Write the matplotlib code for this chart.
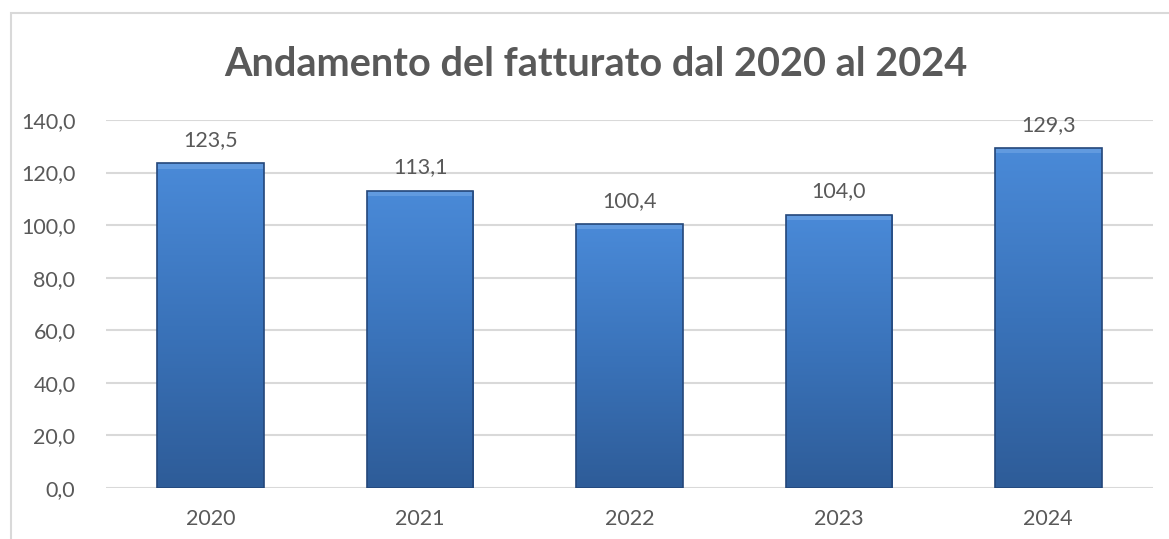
import numpy as np
import matplotlib.pyplot as plt
from matplotlib.patches import Rectangle
from matplotlib.colors import LinearSegmentedColormap
from matplotlib.ticker import FuncFormatter

anni = ['2020', '2021', '2022', '2023', '2024']
fatturato = [123.5, 113.1, 100.4, 104.0, 129.3]
titolo = 'Andamento del fatturato dal 2020 al 2024'

plt.rcParams['font.family'] = ['Lato', 'DejaVu Sans']
grigio = '#595959'

fig = plt.figure(figsize=(11.69, 5.39), dpi=100)
ax = fig.add_axes([106/1169, 1 - 488/539, (1153-106)/1169, (488-120)/539])

x = np.arange(len(anni))
bars = ax.bar(x, fatturato, width=0.51, facecolor='none', edgecolor='#24477a', linewidth=1.2, zorder=3)

# gradient fill for the bars
cmap = LinearSegmentedColormap.from_list('blu', ['#2e5c98', '#3a73ba', '#4a8ad8'])
grad = np.linspace(0, 1, 256).reshape(-1, 1)
for b in bars:
    x0, w, h = b.get_x(), b.get_width(), b.get_height()
    im = ax.imshow(grad, extent=[x0, x0 + w, 0, h], origin='lower', cmap=cmap,
                   aspect='auto', zorder=2)
    im.set_clip_path(b)
    # lighter bevel on top
    ax.add_patch(Rectangle((x0, h - 2.0), w, 2.0, facecolor='#7fb0ea', edgecolor='none',
                           alpha=0.45, zorder=2.5))

for xi, v in zip(x, fatturato):
    ax.text(xi, v + 5, f'{v:.1f}'.replace('.', ','), ha='center', va='bottom',
            fontsize=15.5, color=grigio)

ax.set_xlim(-0.5, len(anni) - 0.5)
ax.set_ylim(0, 140)
ax.set_yticks(np.arange(0, 141, 20))
ax.yaxis.set_major_formatter(FuncFormatter(lambda v, p: f'{v:.1f}'.replace('.', ',')))
ax.set_xticks(x)
ax.set_xticklabels(anni)
ax.tick_params(length=0, labelsize=15.5, labelcolor=grigio)
ax.tick_params(axis='y', pad=22)
ax.tick_params(axis='x', pad=15)
ax.grid(axis='y', color='#d9d9d9', linewidth=1.5, zorder=0)
for s in ax.spines.values():
    s.set_visible(False)

fig.text(596/1169, 1 - 65/539, titolo, ha='center', va='center',
         fontsize=28.5, fontweight='bold', color=grigio)

# chart border
fig.patches.append(Rectangle((11/1169, -0.1), 1.2, 1 - 13/539 + 0.1, transform=fig.transFigure,
                             facecolor='none', edgecolor='#d9d9d9', linewidth=1.5))

fig.savefig('out.png', dpi=100)
